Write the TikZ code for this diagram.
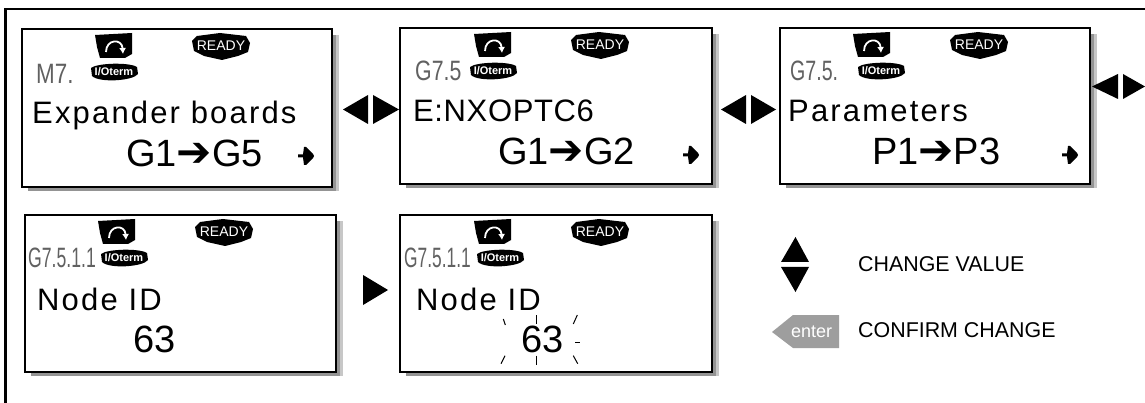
\documentclass[tikz,border=0pt]{standalone}
\usepackage{fontspec}
\usepackage{graphicx}
\usetikzlibrary{arrows.meta}
\setmainfont{Liberation Sans}
\newfontfamily\dejavu{DejaVu Sans}
\newfontfamily\lcdfont[LetterSpace=7]{Liberation Sans}
\newfontfamily\lcdtight[LetterSpace=2]{Liberation Sans}
\tikzset{x=1pt,y=-1pt,
 screen/.style={draw=black,line width=1.6pt,fill=white,anchor=north west,inner sep=0pt,outer sep=0pt},
 lcdtext/.style={anchor=base west,inner sep=0pt,font=\lcdfont\fontsize{31}{31}\selectfont},
 lcdtight/.style={anchor=base west,inner sep=0pt,font=\lcdtight\fontsize{31}{31}\selectfont},
 bigtext/.style={anchor=base west,inner sep=0pt,font=\fontsize{38}{38}\selectfont},
 segtext/.style={anchor=base west,inner sep=0pt,text=black!62,font=\fontsize{28}{28}\selectfont},
 legend/.style={anchor=base west,inner sep=0pt,font=\fontsize{21.4}{22}\selectfont},
 badgetext/.style={text=white,inner sep=0pt,font=\fontsize{14}{14}\selectfont},
 iotext/.style={text=white,inner sep=0pt,font=\fontsize{11}{11}\bfseries\selectfont},
 tri/.style={fill=black,draw=none},
 ray/.style={line width=1pt}}
\newcommand{\tria}[3]{\fill[tri] #1 -- #2 -- #3 -- cycle;}
\newcommand{\arrowglyph}{{\dejavu\fontsize{42}{42}\selectfont ➔}}
\newcommand{\plusarrow}[2]{\fill[black,shift={(#1,#2)}] (-8,-1.5) -- (-3,-1.5) -- (-2,-9) -- (0,-9) -- (7,-2) -- (8,0) -- (7,2) -- (0,9) -- (-2,9) -- (-3,1.5) -- (-8,1.5) -- cycle;}
\newcommand{\lcd}[8]{% x y w h name arrowx readyx iox
 \begin{scope}[shift={(#1,#2)}]
 \fill[black!42] (6,6) rectangle (#3+6,#4+4);
 \fill[black!22] (#3+4,6) rectangle (#3+7,#4+4);
 \node[screen,minimum width=#3,minimum height=#4] (#5) at (0,0) {};
 \fill[black] (#6,6) -- (#6+37,4) -- (#6+37,25) -- (#6+30,29) -- (#6+5,29) -- (#6+2,18) -- cycle;
 \draw[white,line width=1.8pt,-{Latex[length=6pt,width=7pt]}] (#6+11,23) .. controls (#6+11,10) and (#6+27,9) .. (#6+28,25);
 \fill[black] (#7,12) -- (#7+5,7) -- (#7+28,4) -- (#7+54,7) -- (#7+58,14) -- (#7+56,23) -- (#7+46,27) -- (#7+30,31) -- (#7+12,27) -- (#7+2,22) -- cycle;
 \node[badgetext] (#5r) at (#7+29,17) {READY};
 \fill[black] (#8,39) .. controls (#8+6,34) and (#8+38,33) .. (#8+46,38) -- (#8+47,45) .. controls (#8+42,52) and (#8+8,54) .. (#8+1,47) -- cycle;
 \node[iotext] (#5i) at (#8+23,43) {I/Oterm};
 \end{scope}}
\begin{document}
\begin{tikzpicture}
\useasboundingbox (0,0) rectangle (1145,403);
\fill[white] (0,0) rectangle (1145,403);
\draw[line width=2.2pt] (5.5,403) -- (5.5,9) -- (1145,9);
\lcd{22}{29}{310}{158}{s1}{73}{170}{69}
\lcd{400}{28}{312}{156}{s2}{74}{171}{70}
\lcd{780}{28}{310}{156}{s3}{73}{170}{78}
\lcd{25}{215}{311}{157}{s4}{73}{170}{76}
\lcd{400}{215}{312}{157}{s5}{74}{171}{77}
\node[segtext] (m1) at (36,84) {\scalebox{.8}[1]{M7.}};
\node[lcdtext] (t1) at (32,124) {Expander boards};
\node[bigtext] (g1) at (126,167) {G1\arrowglyph G5};
\plusarrow{306}{156}
\node[segtext] (m2) at (415,81) {\scalebox{.76}[1]{G7.5}};
\node[lcdtight] (t2) at (413,122) {E:NXOPTC6};
\node[bigtext] (g2) at (498,165) {G1\arrowglyph G2};
\plusarrow{691}{155}
\node[segtext] (m3) at (790,81) {\scalebox{.7}[1]{G7.5.}};
\node[lcdtext] (t3) at (788,122) {Parameters};
\node[bigtext] (g3) at (872,165) {P1\arrowglyph P3};
\plusarrow{1070}{155}
\node[segtext] (m4) at (28,267) {\scalebox{.63}[1]{G7.5.1.1}};
\node[lcdtext] (t4) at (37,310) {Node ID};
\node[bigtext] (v4) at (133,352) {63};
\node[segtext] (m5) at (404,267) {\scalebox{.62}[1]{G7.5.1.1}};
\node[lcdtext] (t5) at (416,310) {Node ID};
\node[bigtext] (v5) at (521,352) {63};
\draw[ray] (503.3,319) -- (505.3,325);
\draw[ray] (536.7,315) -- (536.7,324);
\draw[ray] (577.3,315) -- (573.3,324);
\draw[ray] (575,342.3) -- (580,342.3);
\draw[ray] (505,355.7) -- (501,363.7);
\draw[ray] (536.7,355.7) -- (536.7,365);
\draw[ray] (573.3,355.7) -- (577.7,363.7);
\tria{(343,109.5)}{(368,95)}{(368,124)}
\tria{(373,95)}{(399,109.5)}{(373,124)}
\tria{(721,109.5)}{(746,95)}{(746,124)}
\tria{(751,95)}{(776,109.5)}{(751,124)}
\tria{(1092,86.5)}{(1118,74)}{(1118,99)}
\tria{(1123,74)}{(1145,86.5)}{(1123,99)}
\tria{(363,275)}{(388,290)}{(363,305)}
\tria{(781,262)}{(809,262)}{(795.5,237)}
\tria{(781,267)}{(809,267)}{(795.5,292)}
\fill[black!38] (772,332) -- (793,315) -- (839,315) -- (839,348) -- (793,348) -- cycle;
\node[anchor=base west,text=white,inner sep=0pt,font=\fontsize{18}{18}\selectfont] (ent) at (791,337) {enter};
\node[legend] (c1) at (858,272) {CHANGE VALUE};
\node[legend] (c2) at (858,337) {CONFIRM CHANGE};
\end{tikzpicture}
\end{document}
